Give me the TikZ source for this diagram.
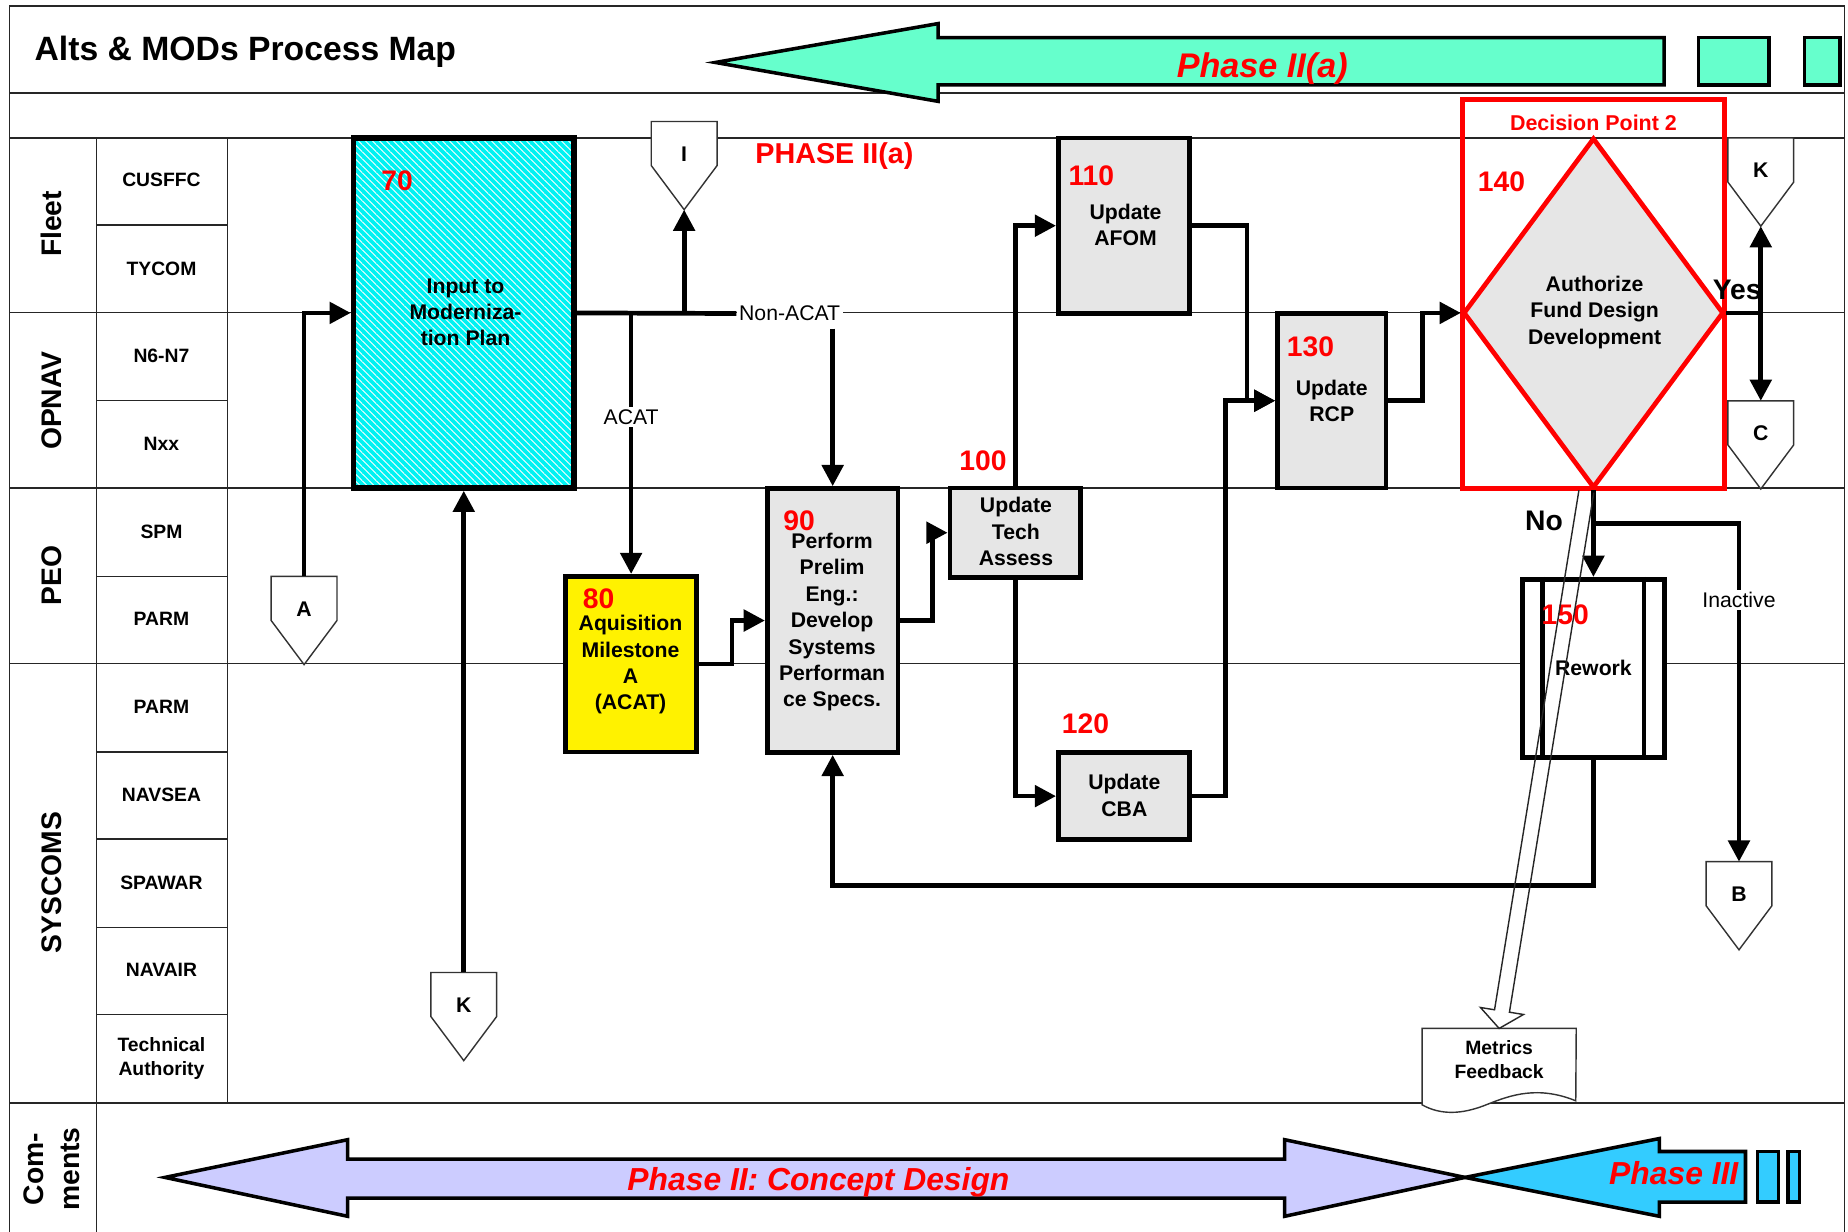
\documentclass[tikz,border=0pt]{standalone}
\usepackage{fontspec}
\setmainfont{Liberation Sans}
\usetikzlibrary{arrows.meta,calc,shapes.geometric,patterns.meta}
\definecolor{aqua}{HTML}{66FFCC}
\definecolor{lav}{HTML}{CCCCFF}
\definecolor{sky}{HTML}{33CCFF}
\definecolor{boxgray}{HTML}{E6E6E6}
\definecolor{cyfill}{HTML}{00F2F2}
\definecolor{rd}{HTML}{FF0000}
\newcommand\offpage[3]{%
  \node[offpg] (#1) at (#2) {};
  \draw[offline] (#1.north west) -- (#1.north east) -- (#1.east) -- (#1.south) -- (#1.west) -- cycle;
  \node[lett] (#1t) at ([yshift=5pt]#1.center) {#3};
}
\begin{document}
\begin{tikzpicture}[x=0.5pt,y=-0.5pt,
  lane/.style={line width=0.6pt, black!85},
  blk/.style={line width=1.5pt, line join=miter},
  bx/.style={draw, line width=2pt, inner sep=0pt},
  num/.style={text=rd, font=\fontsize{12}{14}\selectfont\bfseries, inner sep=0pt},
  btxt/.style={font=\fontsize{9}{11.2}\selectfont\bfseries, align=center, inner sep=0pt},
  conn/.style={line width=2pt, -{Triangle[length=9pt,width=9pt]}},
  dconn/.style={line width=2pt, {Triangle[length=9pt,width=9pt]}-{Triangle[length=9pt,width=9pt]}},
  plain/.style={line width=2pt},
  lab/.style={font=\fontsize{9}{11}\selectfont, fill=white, inner sep=1pt},
  offpg/.style={minimum width=27.5pt, minimum height=37pt, inner sep=0pt},
  offline/.style={line width=0.6pt, draw=black!80, fill=white},
  lett/.style={font=\fontsize{9}{11}\selectfont\bfseries, inner sep=0pt},
  lanelab/.style={font=\fontsize{12}{15.5}\selectfont\bfseries, rotate=90, align=center, inner sep=0pt},
  sub/.style={font=\fontsize{8.2}{10}\selectfont\bfseries, align=center, inner sep=0pt},
  phase/.style={text=rd, font=\fontsize{14.5}{17}\selectfont\bfseries\itshape, inner sep=0pt},
  yn/.style={font=\fontsize{12}{14}\selectfont\bfseries, inner sep=0pt}
]
\useasboundingbox (0,0) rectangle (1568,1045);
\fill[white] (0,0) rectangle (1568,1045);

% ---- frame and swim lanes
\draw[lane] (8,1045) -- (8,5) -- (1565,5) -- (1565,1045);
\foreach \y in {79,117,265,414,563,936} \draw[lane] (8,\y) -- (1565,\y);
\draw[lane] (82,117) -- (82,1045);
\draw[lane] (193,117) -- (193,936);
\foreach \y in {191,340,489,638,712,787,861} \draw[lane] (82,\y) -- (193,\y);

\node[lanelab] (lfleet) at (44,190) {Fleet};
\node[lanelab] (lopnav) at (44,340) {OPNAV};
\node[lanelab] (lpeo) at (44,488) {PEO};
\node[lanelab] (lsys) at (44,749) {SYSCOMS};
\node[lanelab] (lcom) at (44,992) {Com-\\ments};

\foreach \t/\y/\n in {CUSFFC/153/s1,TYCOM/228/s2,N6-N7/302/s3,Nxx/377/s4,SPM/451/s5,PARM/525/s6,PARM/600/s7,NAVSEA/674/s8,SPAWAR/749/s9,NAVAIR/823/s10}
  \node[sub] (\n) at (137,\y) {\t};
\node[sub] (s11) at (137,898) {Technical\\Authority};

% ---- title and phase arrows
\node[font=\fontsize{14.3}{17}\selectfont\bfseries, anchor=base west, inner sep=0pt] (title) at (29,51) {Alts \& MODs Process Map};

\draw[blk, fill=aqua] (607,53) -- (796,20) -- (796,32) -- (1412,32) -- (1412,72) -- (796,72) -- (796,86) -- cycle;
\draw[blk, fill=aqua] (1441,32) rectangle (1501,72);
\draw[blk, fill=aqua] (1531,32) rectangle (1561,72);
\node[phase, anchor=base] (ph2a) at (1071,66) {Phase II(a)};

\draw[blk, fill=lav] (140,999) -- (295,967) -- (295,983.5) -- (1090,983.5) -- (1090,967) -- (1243,999) -- (1090,1032) -- (1090,1016.5) -- (295,1016.5) -- (295,1032) -- cycle;
\draw[blk, fill=sky] (1243,999) -- (1408,966) -- (1408,977) -- (1481,977) -- (1481,1020) -- (1408,1020) -- (1408,1032) -- cycle;
\draw[blk, fill=sky] (1491,977) rectangle (1509,1020);
\draw[blk, fill=sky] (1517,977) rectangle (1527,1020);
\node[phase, font=\fontsize{13.5}{16}\selectfont\bfseries\itshape, anchor=base west] (ph2) at (532,1010) {Phase II: Concept Design};
\node[phase, font=\fontsize{13.5}{16}\selectfont\bfseries\itshape, anchor=base west] (ph3) at (1365,1005) {Phase III};

\node[text=rd, font=\fontsize{12.2}{14}\selectfont\bfseries, inner sep=0pt] (ph2ab) at (708,132) {PHASE II(a)};

% ---- metrics feedback document
\node[minimum width=65pt, minimum height=32pt, inner sep=0pt] (mf) at (1272,905) {};
\draw[line width=0.6pt, draw=black!80, fill=white] (mf.south west) -- (mf.north west) -- (mf.north east) -- (1337,934)
  .. controls (1305,921) and (1282,929) .. (1262,937) .. controls (1240,946) and (1222,946) .. (mf.south west) -- cycle;
\node[sub] (mft) at (1272,899) {Metrics\\Feedback};

% ---- off-page connectors
\offpage{I}{580.5,140.5}{I}
\offpage{A}{258,526.5}{A}
\offpage{Kl}{393.5,862.5}{K}
\offpage{Kr}{1494,154.5}{K}
\offpage{C}{1494,377.5}{C}
\offpage{B}{1475.5,768.5}{B}

% ---- process boxes
\node[bx, line width=2.4pt, preaction={fill=cyfill}, preaction={pattern={Lines[angle=-45,distance=2.1pt,line width=0.35pt]}, pattern color=white},
  minimum width=93.5pt, minimum height=148.5pt] (b70) at (393.5,265.5) {};
\node[num] (n70) at (337,153) {70};
\node[btxt] (t70) at (395,265) {Input to\\Moderniza-\\tion Plan};

\node[bx, fill=yellow, minimum width=55.5pt, minimum height=74.5pt] (b80) at (535.5,563.5) {};
\node[num] (n80) at (508,508) {80};
\node[btxt] (t80) at (535,564) {Aquisition\\Milestone\\A\\(ACAT)};

\node[bx, fill=boxgray, minimum width=55.5pt, minimum height=112pt] (b90) at (706.5,526.5) {};
\node[btxt] (t90) at (706,528) {Perform\\Prelim\\Eng.:\\Develop\\Systems\\Performan\\ce Specs.};
\node[num] (n90) at (678,442) {90};

\node[bx, fill=boxgray, minimum width=55.5pt, minimum height=38pt] (b100) at (861.5,452) {};
\node[num] (n100) at (834,391) {100};
\node[btxt] (t100) at (862,451) {Update\\Tech\\Assess};

\node[bx, fill=boxgray, minimum width=55.5pt, minimum height=74.5pt] (b110) at (953.5,191.5) {};
\node[num] (n110) at (926,149) {110};
\node[btxt] (t110) at (955,191) {Update\\AFOM};

\node[bx, fill=boxgray, minimum width=55.5pt, minimum height=37pt] (b120) at (953.5,675.5) {};
\node[num] (n120) at (921,614) {120};
\node[btxt] (t120) at (954,675) {Update\\CBA};

\node[bx, fill=boxgray, minimum width=46pt, minimum height=74pt] (b130) at (1130,340) {};
\node[num] (n130) at (1112,294) {130};
\node[btxt] (t130) at (1130,340) {Update\\RCP};

\node[diamond, draw=rd, line width=2pt, fill=boxgray, inner sep=0pt, minimum width=110.5pt, minimum height=148.5pt] (d140) at (1352,265.5) {};
\node[num] (n140) at (1274,154) {140};
\node[btxt] (t140) at (1353,265) {Authorize\\Fund Design\\Development};
\node[draw=rd, line width=2pt, inner sep=0pt, minimum width=111pt, minimum height=165pt] (dp) at (1352,249.5) {};
\node[text=rd, font=\fontsize{9.1}{11}\selectfont\bfseries, inner sep=0pt] (dplab) at (1352,104) {Decision Point 2};

\node[bx, fill=white, minimum width=60pt, minimum height=75.5pt] (b150) at (1352,567) {};
\draw[line width=2pt] ([xshift=9.5pt]b150.north west) -- ([xshift=9.5pt]b150.south west);
\draw[line width=2pt] ([xshift=-9.5pt]b150.north east) -- ([xshift=-9.5pt]b150.south east);
\node[num] (n150) at (1328,522) {150};
\node[btxt] (t150) at (1352,567) {Rework};

% ---- connector labels
\node[lab] (nonacat) at (670,266) {Non-ACAT};

% ---- connectors
\draw[conn] (A.north) |- (b70.west);
\draw[conn] (Kl.north) -- (Kl.north |- b70.south);
\draw[plain] (b70.east) -- (nonacat.west);
\draw[conn] (b70.east) -| (I.south);
\draw[conn] (b70.east -| b80.north) -- (b80.north);
\draw[conn] ([yshift=-2pt]nonacat.south -| b90.north) -- (b90.north);
\draw[conn] (b80.east) -- ++(28,0) |- (b90.west);
\draw[conn] (b90.east) -- ++(27,0) |- (b100.west);
\draw[conn] (b100.north) |- (b110.west);
\draw[conn] (b100.south) |- (b120.west);
\draw[conn] (b110.east) -- ++(47,0) |- (b130.west);
\draw[conn] (b120.east) -- ++(29,0) |- (b130.west);
\draw[conn] (b130.east) -- ++(29,0) |- (d140.west);
\draw[plain] (d140.east) -- (d140.east -| Kr.south);
\draw[dconn] (Kr.south) -- (C.north);
\draw[conn] (d140.south) -- (b150.north);
\draw[conn] ([yshift=-14pt]d140.south) -| (B.north);
\draw[conn] (b150.south) -- ++(0,107) -| (b90.south);

\node[lab] (acat) at (535.5,354) {ACAT};
\node[lab] (inact) at (1475.5,509) {Inactive};
\node[yn] (yes) at (1474,246) {Yes};
\node[yn] (no) at (1310,442) {No};

% ---- hollow arrow to metrics feedback
\coordinate (hs) at (1346,417);
\coordinate (hb) at ($(mf.north)!7.5pt!(hs)$);
\draw[line width=0.6pt, draw=black!85]
  ($(hs)!3.2pt!90:(mf.north)$) -- ($(hb)!3.2pt!90:(mf.north)$) -- ($(hb)!9.25pt!90:(mf.north)$) -- (mf.north)
  -- ($(hb)!9.25pt!-90:(mf.north)$) -- ($(hb)!3.2pt!-90:(mf.north)$) -- ($(hs)!3.2pt!-90:(mf.north)$);
\end{tikzpicture}
\end{document}
